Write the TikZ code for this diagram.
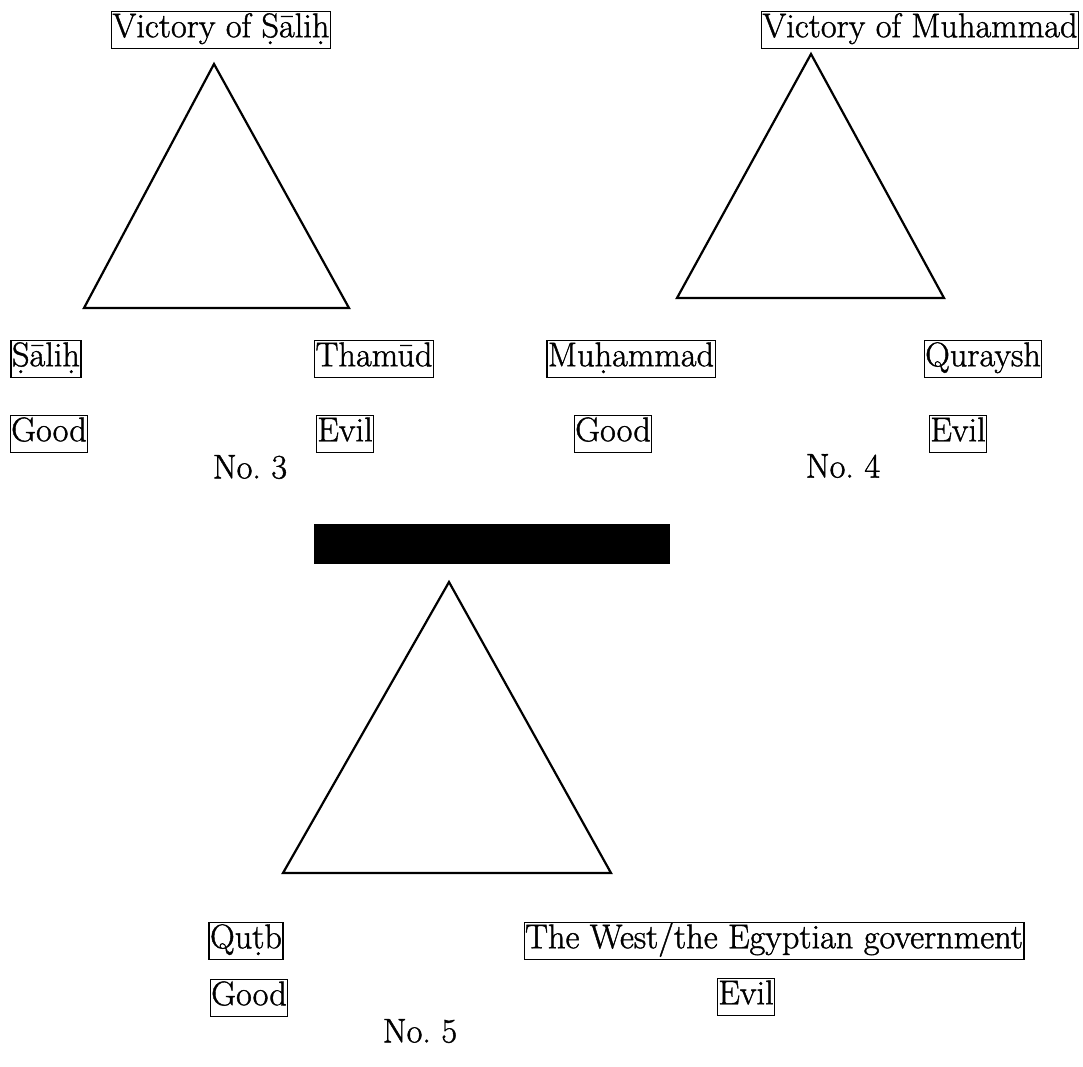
\documentclass[tikz,border=0pt]{standalone}
\usepackage{fontspec}
\newfontfamily\lblfont{Latin Modern Roman}[FakeBold=1.2]
\tikzset{
  lbl/.style={draw=black, line width=1.2pt, inner xsep=1pt, inner ysep=1.5pt,
    text height=24pt, text depth=9.5pt, font=\lblfont\fontsize{34.3}{38}\selectfont},
  numlabel/.style={inner sep=0pt, font=\lblfont\fontsize{34.3}{38}\selectfont},
  tri/.style={draw=black, line width=2.2pt, line join=miter}
}
\begin{document}
\begin{tikzpicture}[x=1pt,y=-1pt]
\useasboundingbox (0,0) rectangle (1083,1066);
% Diagram No. 3
\coordinate (t1a) at (214,64);
\coordinate (t1b) at (84,308);
\coordinate (t1c) at (349,308);
\draw[tri] (t1a) -- (t1b) -- (t1c) -- cycle;
\node[lbl] (vic1) at (221,30) {Victory of Ṣāliḥ};
\node[lbl] (salih) at (46,359) {Ṣāliḥ};
\node[lbl] (thamud) at (374,359) {Thamūd};
\node[lbl] (good1) at (49,434) {Good};
\node[lbl] (evil1) at (345,434) {Evil};
\node[numlabel] (no3) at (250,467) {No.\ 3};
% Diagram No. 4
\coordinate (t2a) at (811,54);
\coordinate (t2b) at (677,298);
\coordinate (t2c) at (944,298);
\draw[tri] (t2a) -- (t2b) -- (t2c) -- cycle;
\node[lbl] (vic2) at (920,30) {Victory of Muhammad};
\node[lbl] (muh) at (631,359) {Muḥammad};
\node[lbl] (qur) at (983,359) {Quraysh};
\node[lbl] (good2) at (613,434) {Good};
\node[lbl] (evil2) at (958,434) {Evil};
\node[numlabel] (no4) at (843,466) {No.\ 4};
% Diagram No. 5
\fill[black] (314,524) rectangle (670,564);
\coordinate (t3a) at (449,582);
\coordinate (t3b) at (283,873);
\coordinate (t3c) at (611,873);
\draw[tri] (t3a) -- (t3b) -- (t3c) -- cycle;
\node[lbl] (qutb) at (246,941) {Quṭb};
\node[lbl] (west) at (774,941) {The West/the Egyptian government};
\node[lbl] (good3) at (249,998) {Good};
\node[lbl] (evil3) at (746,997) {Evil};
\node[numlabel] (no5) at (420,1031) {No.\ 5};
\end{tikzpicture}
\end{document}
